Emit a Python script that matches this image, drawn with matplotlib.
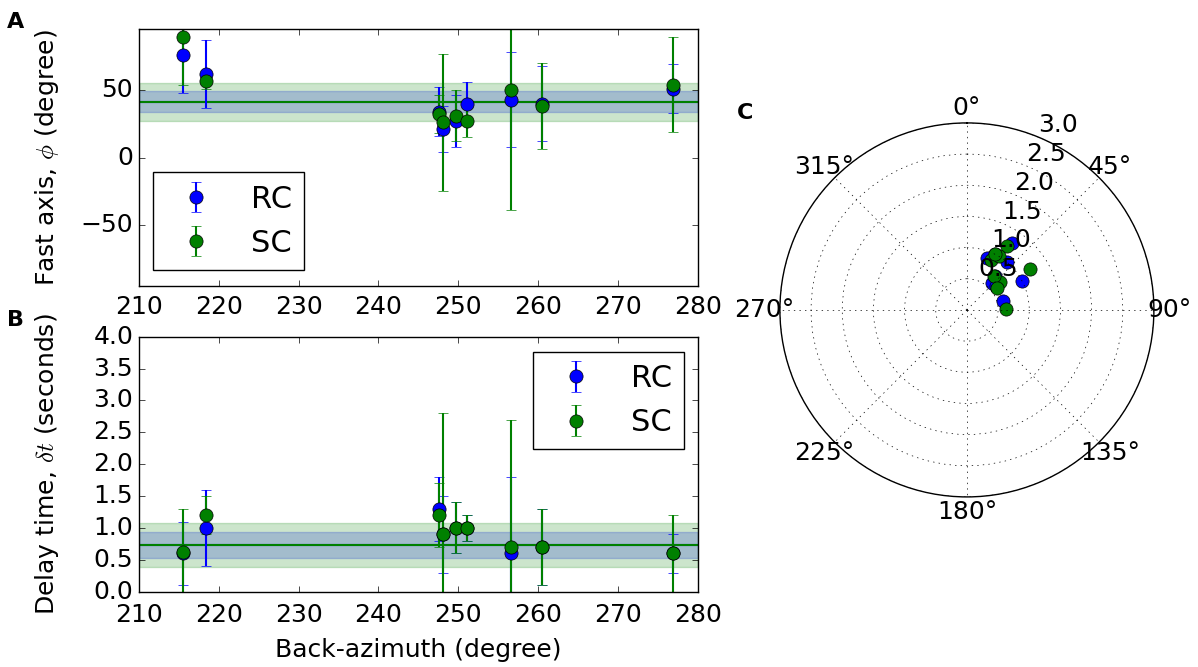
import numpy as np
import matplotlib
matplotlib.use("Agg")
import matplotlib.pyplot as plt

plt.style.use("classic")

# station back-azimuths (degree)
baz = [215.5, 218.4, 247.6, 248.1, 249.7, 251.1, 256.6, 260.5, 276.9]

# fast axis (degree) and errors
phi_rc = [76, 62, 34, 21, 27, 40, 43, 40, 51]
phi_rc_err = [28, 25, 18, 17, 19, 16, 35, 28, 18]
phi_sc = [89, 57, 32, 26, 31, 27, 50, 38, 54]
phi_sc_err = [35, 6, 14, 51, 19, 12, 89, 32, 35]

# delay time (s) and errors
dt_rc = [0.6, 1.0, 1.3, 0.9, 1.0, 1.0, 0.6, 0.7, 0.6]
dt_rc_err = [0.5, 0.6, 0.5, 0.6, 0.4, 0.2, 1.2, 0.6, 0.3]
dt_sc = [0.62, 1.2, 1.2, 0.9, 1.0, 1.0, 0.7, 0.7, 0.6]
dt_sc_err = [0.67, 0.3, 0.5, 1.9, 0.4, 0.2, 2.0, 0.6, 0.6]

# averages with uncertainty
phi_mean_rc, phi_std_rc = 41.5, 7.5
phi_mean_sc, phi_std_sc = 41.0, 14.0
dt_mean_rc, dt_std_rc = 0.73, 0.2
dt_mean_sc, dt_std_sc = 0.73, 0.35

fig = plt.figure(figsize=(11.98, 6.67), dpi=100, facecolor="white")

ms = 9.5
fs = 18
eb = dict(fmt="o", mec="k", ms=ms, elinewidth=1.5, capsize=3.5)

# Panel A: fast axis
axA = fig.add_axes([0.1158, 0.5717, 0.4668, 0.3843])
axA.axhspan(phi_mean_rc - phi_std_rc, phi_mean_rc + phi_std_rc, color="b", alpha=0.2)
axA.axhspan(phi_mean_sc - phi_std_sc, phi_mean_sc + phi_std_sc, color="g", alpha=0.2)
axA.axhline(phi_mean_rc, color="b", lw=1.5)
axA.axhline(phi_mean_sc, color="g", lw=1.5)
axA.errorbar(baz, phi_rc, yerr=phi_rc_err, color="b", label="RC", **eb)
axA.errorbar(baz, phi_sc, yerr=phi_sc_err, color="g", label="SC", **eb)
axA.set_xlim(210, 280)
axA.set_ylim(-95, 95)
axA.set_yticks([-50, 0, 50])
axA.set_ylabel(r"Fast axis, $\phi$ (degree)", fontsize=fs)
axA.yaxis.set_label_coords(-0.139, 0.5)
axA.tick_params(labelsize=fs)
axA.tick_params(axis="x", pad=7)
axA.legend(loc="lower left", bbox_to_anchor=(0.026, 0.061), borderaxespad=0,
           numpoints=1, fontsize=22)

# Panel B: delay time
axB = fig.add_axes([0.1158, 0.1129, 0.4668, 0.3823])
axB.axhspan(dt_mean_rc - dt_std_rc, dt_mean_rc + dt_std_rc, color="b", alpha=0.2)
axB.axhspan(dt_mean_sc - dt_std_sc, dt_mean_sc + dt_std_sc, color="g", alpha=0.2)
axB.axhline(dt_mean_rc, color="b", lw=1.5)
axB.axhline(dt_mean_sc, color="g", lw=1.5)
axB.errorbar(baz, dt_rc, yerr=dt_rc_err, color="b", label="RC", **eb)
axB.errorbar(baz, dt_sc, yerr=dt_sc_err, color="g", label="SC", **eb)
axB.set_xlim(210, 280)
axB.set_ylim(0, 4)
axB.set_yticks(np.arange(0, 4.01, 0.5))
axB.set_xlabel("Back-azimuth (degree)", fontsize=fs, labelpad=8)
axB.set_ylabel(r"Delay time, $\delta t$ (seconds)", fontsize=fs)
axB.yaxis.set_label_coords(-0.139, 0.5)
axB.tick_params(labelsize=fs)
axB.tick_params(axis="x", pad=8)
axB.legend(loc="upper right", bbox_to_anchor=(0.975, 0.941), borderaxespad=0,
           numpoints=1, fontsize=22)

# Panel C: polar view (fast axis vs delay time)
axC = fig.add_axes([0.651, 0.255, 0.3122, 0.5607], projection="polar")
axC.set_theta_zero_location("N")
axC.set_theta_direction(-1)
axC.plot(np.radians(phi_rc), dt_rc, "o", color="b", mec="k", ms=ms)
axC.plot(np.radians(phi_sc), dt_sc, "o", color="g", mec="k", ms=ms)
axC.set_rmax(3.0)
axC.set_rticks([0.5, 1.0, 1.5, 2.0, 2.5, 3.0])
axC.set_rlabel_position(22.5)
axC.tick_params(labelsize=fs)
axC.grid(True, linestyle=":", color="k")

fig.text(7 / 1198, 1 - 12 / 667, "A", fontsize=16, weight="bold", ha="left", va="top")
fig.text(7 / 1198, 1 - 310 / 667, "B", fontsize=16, weight="bold", ha="left", va="top")
fig.text(737 / 1198, 1 - 103 / 667, "C", fontsize=16, weight="bold", ha="left", va="top")

fig.savefig("out.png", dpi=100, facecolor="white")
